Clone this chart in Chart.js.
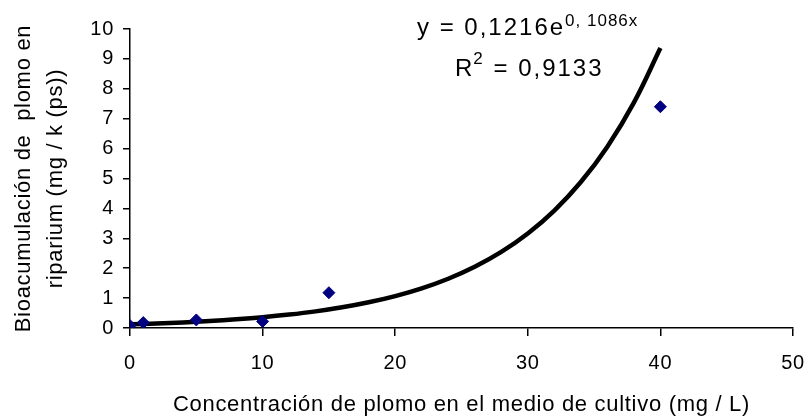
<!DOCTYPE html>
<html>
<head>
<meta charset="utf-8">
<script src="https://cdn.jsdelivr.net/npm/chart.js@4.4.1/dist/chart.umd.min.js"></script>
<style>
  html, body { margin: 0; padding: 0; background: #fff; }
  #wrap { width: 806px; height: 418px; position: relative; }
</style>
</head>
<body>
<div id="wrap"><canvas id="c" width="806" height="418"></canvas></div>
<script>
// Measured lead concentration in the culture medium (mg / L)
const concentrations = [0, 1, 5, 10, 15, 40];
// Lead bioaccumulation in riparium (mg / k (ps))
const bioaccumulation = [0.08, 0.18, 0.27, 0.22, 1.18, 7.4];

// Exponential trend line y = 0,1216e^(0,1086x), sampled every 2 mg/L
const trendX = [0, 2, 4, 6, 8, 10, 12, 14, 16, 18, 20, 22, 24, 26, 28, 30, 32, 34, 36, 38, 40];
const trendY = [0.122, 0.151, 0.188, 0.233, 0.290, 0.360, 0.448, 0.556, 0.691, 0.859, 1.067,
                1.326, 1.648, 2.047, 2.544, 3.161, 3.928, 4.881, 6.065, 7.537, 9.365];

const xTicks = [0, 10, 20, 30, 40, 50];
const yTicks = [0, 1, 2, 3, 4, 5, 6, 7, 8, 9, 10];

const equationText = 'y = 0,1216e';
const exponentText = '0, 1086x';
const r2Text = ' = 0,9133';

const xTitle = 'Concentración de plomo en el medio de cultivo (mg / L)';
const yTitle = ['Bioacumulación de  plomo en', 'riparium (mg / k (ps))'];

const FONT = 'Arial, "Liberation Sans", sans-serif';
const SPACING = '0.7px';

// Slightly open letter spacing for every text drawn on the canvas
const spacing = {
  id: 'spacing',
  beforeUpdate(chart) { chart.ctx.letterSpacing = SPACING; },
  beforeLayout(chart) { chart.ctx.letterSpacing = SPACING; },
  beforeDraw(chart) { chart.ctx.letterSpacing = SPACING; }
};

// Writes the trend line equation and R² in the upper part of the plot
const trendLabel = {
  id: 'trendLabel',
  afterDraw(chart) {
    const ctx = chart.ctx;
    const area = chart.chartArea;
    ctx.save();
    ctx.letterSpacing = '2px';
    ctx.fillStyle = '#000';
    ctx.textBaseline = 'alphabetic';
    ctx.textAlign = 'left';
    const x0 = area.left + 287;
    const y0 = area.top + 6;
    ctx.font = '24px ' + FONT;
    ctx.fillText(equationText, x0, y0);
    const w = ctx.measureText(equationText).width;
    ctx.letterSpacing = '1px';
    ctx.font = '17px ' + FONT;
    ctx.fillText(exponentText, x0 + w, y0 - 9);
    const x1 = area.left + 325;
    const y1 = area.top + 47;
    ctx.letterSpacing = '2px';
    ctx.font = '24px ' + FONT;
    ctx.fillText('R', x1, y1);
    const rw = ctx.measureText('R').width;
    ctx.font = '17px ' + FONT;
    ctx.fillText('2', x1 + rw - 1, y1 - 12);
    const sw = ctx.measureText('2').width;
    ctx.font = '24px ' + FONT;
    ctx.fillText(r2Text, x1 + rw + sw - 1, y1);
    ctx.restore();
  }
};

new Chart(document.getElementById('c'), {
  data: {
    datasets: [
      {
        type: 'line',
        label: 'Tendencia',
        data: trendX.map((x, i) => ({ x: x, y: trendY[i] })),
        borderColor: '#000',
        borderWidth: 4.5,
        pointRadius: 0,
        tension: 0.4,
        fill: false,
        order: 2
      },
      {
        type: 'scatter',
        label: 'Bioacumulación',
        data: concentrations.map((x, i) => ({ x: x, y: bioaccumulation[i] })),
        pointStyle: 'rectRot',
        pointRadius: 6,
        backgroundColor: '#000080',
        borderColor: '#000080',
        borderWidth: 1,
        order: 1
      }
    ]
  },
  options: {
    responsive: false,
    animation: false,
    devicePixelRatio: 1,
    layout: { padding: { top: 29, right: 0, left: 0, bottom: 0 } },
    plugins: { legend: { display: false }, tooltip: { enabled: false } },
    scales: {
      x: {
        type: 'linear',
        min: 0,
        max: 50,
        afterBuildTicks(scale) { scale.ticks = xTicks.map(v => ({ value: v })); },
        afterFit(scale) { scale.height = 90; scale.paddingRight = 13; scale.paddingLeft = 0; },
        border: { color: '#000', width: 1.5 },
        grid: { drawOnChartArea: false, drawTicks: true, tickLength: 8, color: '#000', lineWidth: 1.5 },
        ticks: { color: '#000', font: { family: FONT, size: 20 }, padding: 15, maxRotation: 0 },
        title: {
          display: true,
          text: xTitle,
          color: '#000',
          font: { family: FONT, size: 22 },
          padding: { top: 0, bottom: 0 }
        }
      },
      y: {
        type: 'linear',
        min: 0,
        max: 10,
        afterBuildTicks(scale) { scale.ticks = yTicks.map(v => ({ value: v })); },
        afterFit(scale) { scale.width = 130; },
        border: { color: '#000', width: 1.5 },
        grid: { drawOnChartArea: false, drawTicks: true, tickLength: 7, color: '#000', lineWidth: 1.5 },
        ticks: { color: '#000', font: { family: FONT, size: 20 }, padding: 9 },
        title: {
          display: true,
          text: yTitle,
          color: '#000',
          font: { family: FONT, size: 22, lineHeight: 1.45 },
          padding: { top: 8, bottom: 0 }
        }
      }
    }
  },
  plugins: [spacing, trendLabel]
});
</script>
</body>
</html>
